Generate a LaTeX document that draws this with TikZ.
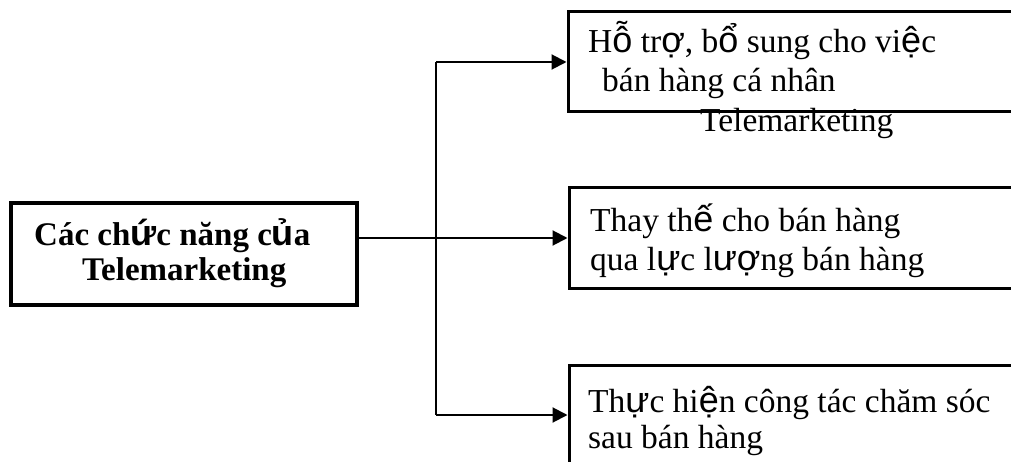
\documentclass[tikz,border=0pt]{standalone}
\usepackage{fontspec}
\setmainfont{Liberation Serif}
\newfontfamily\altfont{Liberation Sans}
\usetikzlibrary{arrows.meta}

% accented letters that come out in the sans face
\newcommand{\sv}[1]{{\altfont\fontsize{36}{39}\selectfont #1}}

\tikzset{
  box/.style={draw=black, line width=3pt, rectangle, inner sep=0pt},
  txt/.style={anchor=base west, inner sep=0pt, font=\fontsize{33.5}{39}\selectfont},
  link/.style={line width=2pt, -{Triangle[length=15pt,width=15pt]}}
}

\begin{document}
\begin{tikzpicture}[x=1pt,y=-1pt]
        \useasboundingbox (0,0) rectangle (1011,462);

        % the left box
        \node[box, line width=3.5pt, minimum width=346pt, minimum height=102pt] (main) at (184,254) {};
        \node[txt, font=\fontsize{33}{39}\selectfont\bfseries] (main1) at (34,245) {Các ch\sv{ứ}c năng c\sv{ủ}a};
        \node[txt, font=\fontsize{33}{39}\selectfont\bfseries] (main2) at (82,280) {Telemarketing};

        % the three boxes on the right, cut off at the page edge
        \node[box, minimum width=480pt, minimum height=100pt] (b1) at (808,62) {};
        \node[box, minimum width=480pt, minimum height=100pt] (b2) at (809,238) {};
        \node[box, minimum width=480pt, minimum height=100pt] (b3) at (809,415) {};

        \node[txt] (b1a) at (588,53) {H\sv{ỗ} tr\sv{ợ}, b\sv{ổ} sung cho vi\sv{ệ}c};
        \node[txt] (b1b) at (602,92) {bán hàng cá nhân};
        \node[txt] (b1c) at (700,132) {Telemarketing};

        \node[txt] (b2a) at (590,232) {Thay th\sv{ế} cho bán hàng};
        \node[txt] (b2b) at (590,270) {qua l\sv{ự}c l\sv{ượ}ng bán hàng};

        \node[txt] (b3a) at (588,412) {Th\sv{ự}c hi\sv{ệ}n công tác chăm sóc};
        \node[txt] (b3b) at (588,448) {sau bán hàng};

        % the fork
        \coordinate (fork) at (436,238);
        \draw[line width=2pt] (fork |- b1) -- (fork |- b3);
        \draw[link] (main.east |- b2) -- (b2.west);
        \draw[link] (fork |- b1) -- (b1.west);
        \draw[link] (fork |- b3) -- (b3.west);
\end{tikzpicture}
\end{document}
